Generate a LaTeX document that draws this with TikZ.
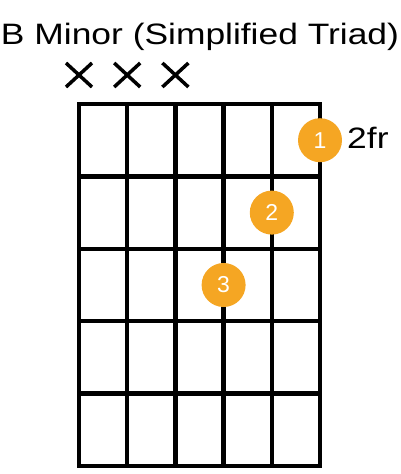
\documentclass[tikz,border=0pt]{standalone}
\usepackage{fontspec}
\setmainfont{Liberation Sans}
\usetikzlibrary{calc}
\definecolor{dotorange}{RGB}{245,166,35}
\def\drawline{\draw[color=black, line width=4.5pt, line cap=rect]}
\def\drawmute{\draw[color=black, line width=3.5pt]}
\def\fingernode{\node[circle,fill=dotorange,minimum size=44pt,inner sep=0pt,text=white,font=\fontsize{23}{23}\selectfont]}

\begin{document}
\begin{tikzpicture}[x=1pt,y=-1pt]
\useasboundingbox (0,0) rectangle (400,474);
\coordinate (topl) at (79,104); % top left corner of the fretboard
\coordinate (botl) at ($ (topl) + (0,362) $); % bottom left corner

% ---------- title
\node[anchor=base, xscale=1.2, font=\fontsize{29.5}{30}\selectfont] (title) at (200,44) {B Minor (Simplified Triad)};

% ---------- strings and frets
\foreach \s in {0,...,5}
  \drawline ($ (topl) + (\s*48.2,0) $) to ($ (botl) + (\s*48.2,0) $);
\foreach \f in {0,...,5}
  \drawline ($ (topl) + (0,\f*72.4) $) to ($ (topl) + (241,\f*72.4) $);

% ---------- muted strings
\foreach \s in {0,1,2} {
  \coordinate (mute) at ($ (topl) + (\s*48.2,-29) $);
  \drawmute ($ (mute) + (-13,-12) $) to ($ (mute) + (13,12) $);
  \drawmute ($ (mute) + (-13,12) $) to ($ (mute) + (13,-12) $);
}

% ---------- fingers
\fingernode (f1) at ($ (topl) + (241,36.2) $) {1};
\fingernode (f2) at ($ (topl) + (192.8,108.6) $) {2};
\fingernode (f3) at ($ (topl) + (144.6,181) $) {3};

% fret position label
\node[anchor=base west, xscale=1.2, inner sep=0pt, font=\fontsize{29.5}{30}\selectfont] (fret) at (347,148) {2fr};
\end{tikzpicture}
\end{document}
